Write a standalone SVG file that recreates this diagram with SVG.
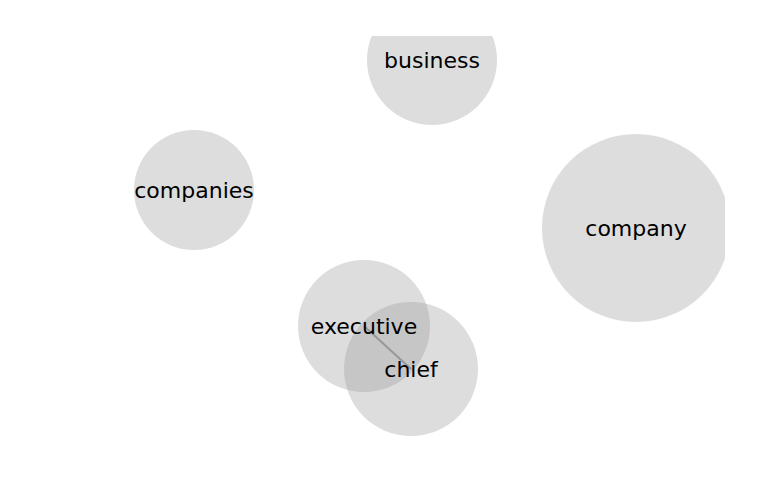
<svg xmlns="http://www.w3.org/2000/svg" width="768" height="500" viewBox="0 0 768 500">
<defs>
<clipPath id="area"><rect x="0" y="36" width="725" height="464"/></clipPath>
<style>
.node circle{fill:#999999;fill-opacity:0.33;stroke:none}
.label{font-family:"DejaVu Sans",sans-serif;font-size:22px;fill:#000;text-anchor:middle}
.edge{stroke:#999999;stroke-width:2;fill:none}
</style>
</defs>
<rect width="768" height="500" fill="#ffffff"/>
<g clip-path="url(#area)">
<g id="connectors">
<line class="edge" x1="364" y1="326" x2="411" y2="369"/>
</g>
<g id="node-business" class="node"><circle cx="432" cy="60" r="65"/></g>
<g id="node-companies" class="node"><circle cx="194" cy="190" r="60"/></g>
<g id="node-company" class="node"><circle cx="636" cy="228" r="94"/></g>
<g id="node-executive" class="node"><circle cx="364" cy="326" r="66"/></g>
<g id="node-chief" class="node"><circle cx="411" cy="369" r="67"/></g>
<g id="labels">
<text id="label-business" class="label" x="432" y="67.5">business</text>
<text id="label-companies" class="label" x="194" y="197.5">companies</text>
<text id="label-company" class="label" x="636" y="235.5">company</text>
<text id="label-executive" class="label" x="364" y="333.5">executive</text>
<text id="label-chief" class="label" x="411" y="376.5">chief</text>
</g>
</g>
</svg>
